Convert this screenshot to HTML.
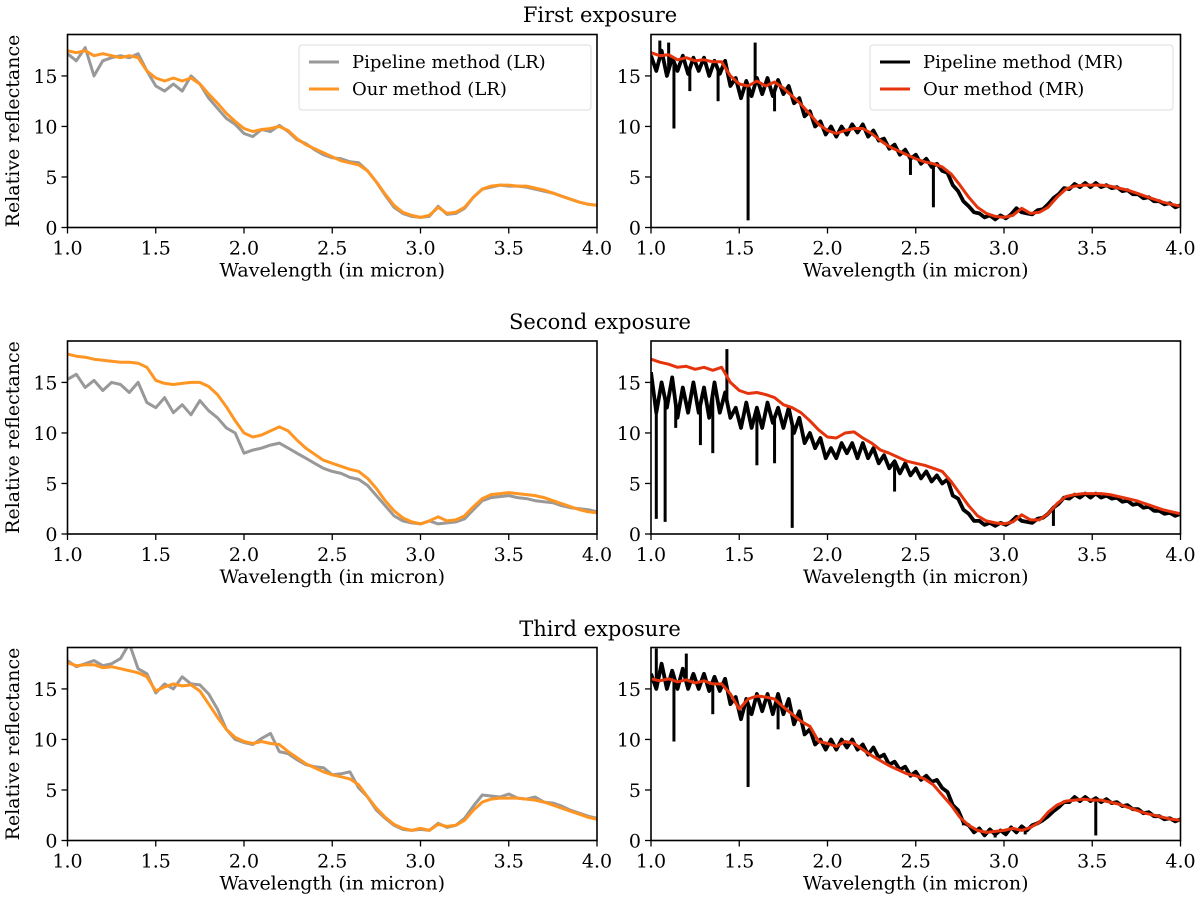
<!DOCTYPE html>
<html><head><meta charset="utf-8"><style>
body{margin:0;background:#fff;}
svg{display:block;font-family:"DejaVu Serif","Liberation Serif",serif;}
</style></head><body>
<svg id="fig" width="1200" height="903" viewBox="0 0 1200 903" xmlns="http://www.w3.org/2000/svg"></svg>
<script>
// ---- data (values in relative reflectance; wavelengths span 1.0–4.0 evenly) ----
const xTicks = [1.0,1.5,2.0,2.5,3.0,3.5,4.0];
const yTicks = [0,5,10,15];
const rowTitles = ["First exposure","Second exposure","Third exposure"];

const orange1 = [17.5,17.3,17.5,17.0,17.2,17.0,16.8,17.0,16.8,15.5,14.8,14.5,14.8,14.5,14.8,14.2,13.2,12.3,11.3,10.5,9.8,9.5,9.7,9.8,10.0,9.6,8.8,8.2,7.8,7.4,7.0,6.6,6.4,6.2,5.6,4.5,3.3,2.2,1.5,1.2,1.0,1.2,2.0,1.4,1.5,2.0,3.0,3.8,4.1,4.2,4.2,4.1,4.1,3.9,3.7,3.4,3.1,2.8,2.5,2.3,2.2];
const gray1 = [17.2,16.5,17.8,15.0,16.5,16.8,17.0,16.8,17.2,15.5,14.0,13.5,14.2,13.5,15.0,14.2,12.8,11.8,10.8,10.2,9.3,9.0,9.7,9.5,10.1,9.5,8.7,8.3,7.7,7.2,6.9,6.8,6.5,6.4,5.6,4.5,3.2,2.0,1.4,1.1,1.0,1.1,2.1,1.3,1.4,1.9,3.0,3.8,4.0,4.2,4.1,4.1,4.0,3.8,3.6,3.4,3.1,2.8,2.5,2.3,2.2];
const orange2 = [17.8,17.6,17.5,17.3,17.2,17.1,17.0,17.0,16.9,16.5,15.2,14.9,14.8,14.9,15.0,15.0,14.6,13.8,12.6,11.2,10.0,9.6,9.8,10.2,10.6,10.2,9.3,8.5,7.9,7.3,7.0,6.7,6.4,6.2,5.5,4.5,3.3,2.3,1.6,1.2,1.0,1.3,1.7,1.3,1.4,1.8,2.7,3.5,3.9,4.0,4.1,4.0,3.9,3.8,3.6,3.3,3.0,2.7,2.4,2.2,2.1];
const gray2 = [15.3,15.8,14.5,15.2,14.2,15.0,14.8,14.0,15.0,13.0,12.5,13.5,12.0,12.8,11.8,13.2,12.2,11.5,10.5,10.0,8.0,8.3,8.5,8.8,9.0,8.5,8.0,7.5,7.0,6.5,6.2,6.0,5.6,5.4,4.8,3.8,2.8,1.8,1.3,1.1,1.0,1.3,1.0,1.1,1.2,1.5,2.4,3.3,3.6,3.7,3.8,3.6,3.5,3.3,3.2,3.1,2.8,2.6,2.5,2.4,2.2];
const orange3 = [17.6,17.3,17.4,17.4,17.1,17.2,17.0,16.8,16.6,16.2,14.8,15.2,15.5,15.3,15.4,14.8,13.5,12.2,11.0,10.2,9.8,9.6,9.8,9.6,9.5,8.8,8.2,7.6,7.2,6.8,6.5,6.3,6.1,5.5,4.3,3.2,2.3,1.6,1.2,1.0,1.2,1.0,1.6,1.4,1.5,2.0,3.0,3.8,4.1,4.2,4.2,4.2,4.1,4.0,3.8,3.5,3.2,2.9,2.6,2.3,2.1];
const gray3 = [17.8,17.2,17.5,17.8,17.3,17.5,18.0,19.5,17.0,16.5,14.6,15.5,15.0,16.2,15.5,15.4,14.5,13.0,11.0,10.0,9.7,9.5,10.1,10.6,8.8,8.6,8.0,7.5,7.3,7.2,6.5,6.6,6.8,5.2,4.3,3.0,2.2,1.5,1.1,1.0,1.1,1.0,1.7,1.3,1.5,2.2,3.4,4.5,4.4,4.3,4.6,4.2,4.1,4.3,3.8,3.7,3.4,3.0,2.7,2.4,2.2];

const red1 = [17.3,17.0,17.1,16.6,16.8,16.5,16.6,16.4,16.4,15.0,14.2,14.0,14.5,14.0,14.4,13.8,13.0,12.2,11.2,10.2,9.6,9.3,9.6,9.8,9.8,9.3,8.6,8.0,7.6,7.2,6.8,6.5,6.3,6.0,5.3,4.2,3.0,2.0,1.4,1.1,1.0,1.2,1.9,1.4,1.5,2.0,3.0,3.8,4.1,4.2,4.2,4.2,4.1,3.9,3.7,3.4,3.1,2.8,2.5,2.3,2.1];
const red2 = [17.3,17.0,16.8,16.5,16.6,16.3,16.5,16.2,16.5,15.0,14.2,13.9,14.0,13.8,13.5,12.8,12.5,12.0,11.2,10.3,9.6,9.5,10.0,10.1,9.5,9.0,8.3,8.0,7.6,7.2,7.0,6.8,6.5,6.2,5.2,4.0,2.8,1.8,1.3,1.1,1.0,1.2,1.9,1.4,1.4,2.0,3.0,3.7,3.9,4.0,4.0,4.0,3.9,3.7,3.5,3.3,3.0,2.7,2.4,2.2,2.0];
const red3 = [16.0,15.8,16.0,15.7,15.9,15.6,15.8,15.5,15.5,14.5,13.0,14.0,14.3,14.2,14.0,13.2,12.5,11.8,11.3,9.8,9.6,9.3,9.8,9.6,9.0,8.4,7.9,7.4,7.0,6.6,6.4,6.1,5.5,4.5,3.5,2.3,1.5,1.0,0.8,0.9,1.0,1.2,1.0,1.3,1.8,2.8,3.5,3.9,4.0,4.1,4.0,4.0,3.8,3.6,3.3,3.0,2.7,2.5,2.3,2.1,2.0];

const black1 = [17,15.5,17.5,15,16.8,15.5,17,15.2,16.8,15.5,16.8, 15,16.5,15.2,16.5,14,14.8,12.8,14.5,13,14.8,13.2, 14.8,13,14.6,13.2,14,12.3,12.8,11,11.5,10,10.5, 9.2,10,9,10,9.2,10.2,9.4,10.2,9,9.6,8.6, 8.8,7.8,8.2,7.2,7.7,6.8,7.2,6.3,6.8,6.0,6.3, 5.6,5.4,4.2,3.6,2.6,2.1,1.5,1.4,1.0,1.2,0.8, 1.2,0.9,1.3,1.9,1.5,1.4,1.3,1.7,1.8,2.3,2.9, 3.3,3.9,3.8,4.3,4.0,4.4,4.0,4.4,4.0,4.2,3.9, 4.0,3.6,3.7,3.3,3.3,2.9,3.0,2.6,2.6,2.3,2.4, 2.0,2.2];
const black2 = [16,12,15,12.5,15.5,11.5,14.5,12,15,12,14.5, 11.5,15,12,14,11.5,12.5,10.5,13,10.5,12.5,10.5, 13,11,12.5,10.5,12.5,10,11.5,9,10,8.5,9.5, 7.5,8.5,7.5,9,8,9,7.5,9,7.5,8.5,7, 7.8,6.5,7.2,6,7,5.8,6.5,5.5,6.2,5.2,5.8, 5.0,5.4,3.8,3.5,2.4,2.0,1.3,1.3,0.9,1.1,0.8, 1.1,0.9,1.2,1.7,1.3,1.2,1.1,1.5,1.6,2.0,2.6, 3.0,3.6,3.5,3.9,3.6,4.0,3.6,4.0,3.6,3.8,3.5, 3.6,3.2,3.3,2.9,3.0,2.6,2.7,2.3,2.3,2.0,2.1, 1.8,2.0];
const black3 = [16.5,15,17.5,15,16.8,15,17,15,16.5,15,16.5, 14.8,16.2,14.8,16,13.5,14.2,12,14,12.5,14.5,12.8, 14.5,12.5,14.5,12.5,14,11.5,12.8,10.5,11,9.5,10, 9,10,9,10,9.2,10,9,9.5,8.5,9.2,8.2, 8.5,7.5,7.8,7,7.3,6.4,6.8,6,6.4,5.8,6.0, 5.2,4.8,3.5,3.0,1.8,1.5,0.8,1.2,0.5,1.1,0.6, 1.0,0.6,1.3,0.8,1.4,1.0,1.5,1.7,2.0,2.4,2.9, 3.3,3.8,3.8,4.3,3.9,4.3,3.9,4.2,3.8,4.1,3.7, 3.8,3.4,3.5,3.1,3.1,2.7,2.8,2.4,2.4,2.1,2.2, 1.9,2.1];

const spikeX1 = [1.05,1.10,1.13,1.22,1.38,1.55,1.59,1.70,2.47,2.60];
const spikeY1 = [18.5,18.3,9.8,13.5,12.5,0.7,18.3,11.5,5.2,2.0];
const spikeX2 = [1.03,1.08,1.14,1.28,1.35,1.43,1.60,1.70,1.80,2.38,3.28];
const spikeY2 = [1.5,1.2,10.5,8.8,8.0,18.3,6.8,7.0,0.6,4.2,0.8];
const spikeX3 = [1.03,1.13,1.20,1.35,1.55,1.72,2.77,2.95,3.12,3.52];
const spikeY3 = [19.0,9.8,18.5,12.5,5.3,11.0,1.5,0.3,0.6,0.5];

// ---- layout ----
const NS = "http://www.w3.org/2000/svg";
const svg = document.getElementById('fig');
const colX = [67.5, 651], W = 529.5;
const rowBottom = [227.5, 534, 840.5], H = 193;
const YMAX = 19.1;
function el(tag, attrs, parent){ const e=document.createElementNS(NS,tag); for(const k in attrs) e.setAttribute(k,attrs[k]); (parent||svg).appendChild(e); return e; }
function xs(c,v){ return colX[c] + (v-1)/3*W; }
function ys(r,v){ return rowBottom[r] - v/YMAX*H; }
function interp(arr,x){ const n=arr.length; const f=(x-1)/3*(n-1); const i=Math.max(0,Math.min(n-2,Math.floor(f))); const t=f-i; return arr[i]*(1-t)+arr[i+1]*t; }

const defs = el('defs',{});
for(let r=0;r<3;r++) for(let c=0;c<2;c++){
  const cp = el('clipPath',{id:'clip'+r+c},defs);
  el('rect',{x:xs(c,1),y:rowBottom[r]-H,width:W,height:H},cp);
}

function line(r,c,arr,color,w,name){
  const n=arr.length; let d='';
  arr.forEach((v,i)=>{ const x=1+3*i/(n-1); d+=(i?'L':'M')+xs(c,x).toFixed(1)+','+ys(r,v).toFixed(1); });
  const p = el('path',{d:d,fill:'none',stroke:color,'stroke-width':w,'stroke-linejoin':'round','clip-path':'url(#clip'+r+c+')'});
  
  
}
function spikes(r,c,base,sx,sy,name){
  sx.forEach((x,i)=>{
    const s = el('line',{x1:xs(c,x),x2:xs(c,x),y1:ys(r,interp(base,x)),y2:ys(r,sy[i]),stroke:'#000','stroke-width':3,'clip-path':'url(#clip'+r+c+')'});
    
    
  });
}

const grays=[gray1,gray2,gray3], oranges=[orange1,orange2,orange3], blacks=[black1,black2,black3], reds=[red1,red2,red3];
const sX=[spikeX1,spikeX2,spikeX3], sY=[spikeY1,spikeY2,spikeY3];
const titleY=[22,329,636];

for(let r=0;r<3;r++){
  const t = el('text',{x:600,y:titleY[r],'text-anchor':'middle','font-size':21,fill:'#000'});
  t.textContent = rowTitles[r];
  
  
  for(let c=0;c<2;c++){
    if(c===0){ line(r,c,grays[r],'#999999',3,'pipeline-lr-line'); line(r,c,oranges[r],'#ff9624',3,'our-lr-line'); }
    else { line(r,c,blacks[r],'#000000',3.8,'pipeline-mr-line'); spikes(r,c,blacks[r],sX[r],sY[r],'pipeline-mr-spike'); line(r,c,reds[r],'#e5330c',3,'our-mr-line'); }
    const f = el('rect',{x:xs(c,1),y:rowBottom[r]-H,width:W,height:H,fill:'none',stroke:'#000','stroke-width':1.6});
    
    
    xTicks.forEach(v=>{
      el('line',{x1:xs(c,v),x2:xs(c,v),y1:rowBottom[r],y2:rowBottom[r]+6,stroke:'#000','stroke-width':1.3});
      const tl = el('text',{x:xs(c,v),y:rowBottom[r]+27,'text-anchor':'middle','font-size':19,fill:'#000'});
      tl.textContent = v.toFixed(1);
      
      
    });
    yTicks.forEach(v=>{
      el('line',{x1:colX[c]-6,x2:colX[c],y1:ys(r,v),y2:ys(r,v),stroke:'#000','stroke-width':1.3});
      const tl = el('text',{x:colX[c]-10,y:ys(r,v)+7,'text-anchor':'end','font-size':19,fill:'#000'});
      tl.textContent = v;
      
      
    });
    const xl = el('text',{x:colX[c]+W/2,y:rowBottom[r]+49,'text-anchor':'middle','font-size':19,fill:'#000'});
    xl.textContent = 'Wavelength (in micron)';
    
    
  }
  const yl = el('text',{x:0,y:0,'text-anchor':'middle','font-size':19,fill:'#000',transform:'translate(19,'+(rowBottom[r]-H/2)+') rotate(-90)'});
  yl.textContent = 'Relative reflectance';
  
  
}

function legend(x0,w,entries){
  const g = el('g',{});
  
  
  el('rect',{x:x0,y:45,width:w,height:65,rx:3,fill:'#fff','fill-opacity':0.85,stroke:'#ddd','stroke-width':1},g);
  entries.forEach((e,i)=>{
    const y = 62+i*27;
    el('line',{x1:x0+10,x2:x0+40,y1:y,y2:y,stroke:e[1],'stroke-width':3},g);
    const t = el('text',{x:x0+53,y:y+6,'font-size':18,fill:'#000'},g);
    t.textContent = e[0];
    
    
  });
}
legend(299,292,[['Pipeline method (LR)','#999999'],['Our method (LR)','#ff9624']]);
legend(870,303,[['Pipeline method (MR)','#000000'],['Our method (MR)','#e5330c']]);
</script>
</body></html>
